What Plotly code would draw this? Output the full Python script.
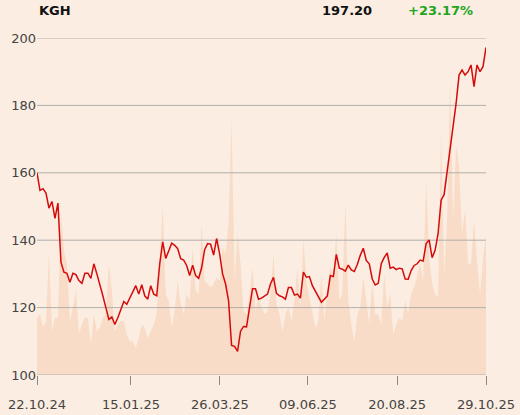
import plotly.graph_objects as go

# ---- data ----
price = [160.0, 154.8, 155.3, 154.0, 149.5, 151.5, 146.5, 151.0, 133.5, 130.5,
         130.2, 127.5, 130.2, 129.8, 128.0, 127.2, 130.2, 130.2, 128.7, 133.0,
         130.0, 127.0, 123.5, 120.0, 116.5, 117.2, 115.0, 117.0, 119.5, 121.8,
         121.0, 123.0, 124.5, 126.5, 124.0, 126.8, 123.5, 122.5, 126.5, 124.0,
         123.5, 133.0, 139.5, 134.6, 136.8, 139.1, 138.5, 137.5, 134.5, 134.1,
         132.5, 129.5, 132.6, 129.5, 128.7, 131.8, 137.2, 139.0, 138.8, 135.6,
         140.5, 136.0, 130.0, 127.0, 122.0, 108.8, 108.5, 107.0, 113.0, 114.4,
         114.3, 120.5, 125.6, 125.6, 122.5, 122.8, 123.4, 124.0, 127.0, 129.0,
         124.2, 123.5, 123.2, 122.5, 126.0, 126.0, 123.7, 124.0, 122.8, 130.5,
         129.0, 129.2, 126.5, 125.0, 123.2, 121.6, 122.5, 123.5, 129.5, 129.2,
         135.8, 131.7, 131.4, 130.8, 132.6, 131.2, 130.7, 132.8, 135.5, 137.6,
         134.0, 133.0, 128.5, 126.7, 127.2, 133.0, 134.9, 136.2, 131.7, 132.0,
         131.3, 131.7, 131.5, 128.5, 128.4, 131.0, 132.5, 133.0, 134.1, 133.8,
         139.0, 140.1, 134.8, 137.0, 142.0, 151.9, 153.5, 160.5, 167.3, 173.2,
         180.5, 189.0, 190.5, 189.0, 190.0, 192.0, 185.6, 192.0, 190.0, 191.5,
         197.2]

volume = [17, 18, 14, 16, 36, 13, 17, 17, 48, 37,
          33, 16, 20, 25, 12, 15, 17, 17, 9, 18,
          13, 14, 17, 18, 33, 25, 13, 15, 16, 16,
          12, 10, 10, 8, 11, 15, 14, 11, 13, 15,
          18, 36, 50, 24, 22, 14, 19, 28, 21, 18,
          24, 22, 38, 25, 24, 45, 28, 27, 26, 27,
          29, 28, 38, 36, 45, 76, 28, 42, 33, 19,
          18, 24, 32, 19, 23, 20, 18, 19, 24, 36,
          21, 18, 13, 18, 20, 16, 22, 32, 20, 40,
          28, 23, 18, 14, 16, 30, 16, 26, 32, 30,
          42, 22, 24, 51, 22, 15, 10, 18, 20, 29,
          22, 15, 28, 18, 18, 15, 30, 20, 24, 12,
          15, 17, 16, 22, 18, 24, 26, 30, 33, 28,
          58, 35, 27, 24, 23, 72, 30, 45, 88, 45,
          68, 62, 42, 49, 33, 33, 46, 34, 24, 34,
          42]

tick_labels = ["22.10.24", "15.01.25", "26.03.25", "09.06.25", "20.08.25", "29.10.25"]
tick_positions = [0, 31.4, 61.1, 90.5, 120.3, 150]
y_ticks = [100, 120, 140, 160, 180, 200]

symbol = "KGH"
last_price = "197.20"
change = "+23.17%"

x = list(range(len(price)))

BG = "#fbede1"
GRID = "#b3afab"
FONT = "DejaVu Sans"

fig = go.Figure()

# volume (background area) on hidden primary y axis
fig.add_trace(go.Scatter(
    x=x, y=volume, yaxis="y", mode="lines", line=dict(width=0),
    fill="tozeroy", fillcolor="#f8dcc7", hoverinfo="skip", showlegend=False))

# horizontal grid lines drawn above volume, below price (price axis y2)
gx, gy = [], []
for v in y_ticks:
    gx += [x[0], x[-1], None]
    gy += [v, v, None]
fig.add_trace(go.Scatter(x=gx, y=gy, yaxis="y2", mode="lines",
                         line=dict(color=GRID, width=1),
                         hoverinfo="skip", showlegend=False))

# price line
fig.add_trace(go.Scatter(
    x=x, y=price, yaxis="y2", mode="lines", line=dict(color="#d60a0a", width=1.5),
    showlegend=False))

fig.update_layout(
    width=520, height=415,
    margin=dict(l=37, r=34, t=38, b=40, autoexpand=False),
    paper_bgcolor=BG, plot_bgcolor=BG,
    font=dict(family=FONT, size=13, color="#444444"),
    xaxis=dict(range=[x[0], x[-1]], tickvals=tick_positions, ticktext=tick_labels,
               showgrid=False, zeroline=False, showline=False, automargin=False,
               ticks="outside", ticklen=9, tickcolor="#8a8784", tickwidth=1,
               ticklabelstandoff=8,
               tickfont=dict(family=FONT, size=13, color="#444444")),
    yaxis=dict(range=[0, 100], visible=False, showgrid=False, zeroline=False,
               automargin=False),
    yaxis2=dict(range=[100, 200], tickvals=y_ticks, overlaying="y", side="left",
                showgrid=False, zeroline=False, showline=False, ticks="",
                automargin=False,
                tickfont=dict(family=FONT, size=13, color="#444444")),
    annotations=[
        dict(text=symbol, xref="paper", yref="paper", x=0, y=1.083,
             xanchor="left", yanchor="middle", showarrow=False,
             font=dict(family=FONT, size=13, color="#111111", weight="bold")),
        dict(text=last_price, xref="paper", yref="paper", x=0.7506, y=1.083,
             xanchor="right", yanchor="middle", showarrow=False,
             font=dict(family=FONT, size=13, color="#111111", weight="bold")),
        dict(text=change, xref="paper", yref="paper", x=0.9755, y=1.083,
             xanchor="right", yanchor="middle", showarrow=False,
             font=dict(family=FONT, size=13, color="#1ea51e", weight="bold")),
    ],
)

fig.write_html("out.html",
               config={"displayModeBar": False},
               post_script="document.body.style.margin='0';"
                           "document.body.style.background='" + BG + "';")
